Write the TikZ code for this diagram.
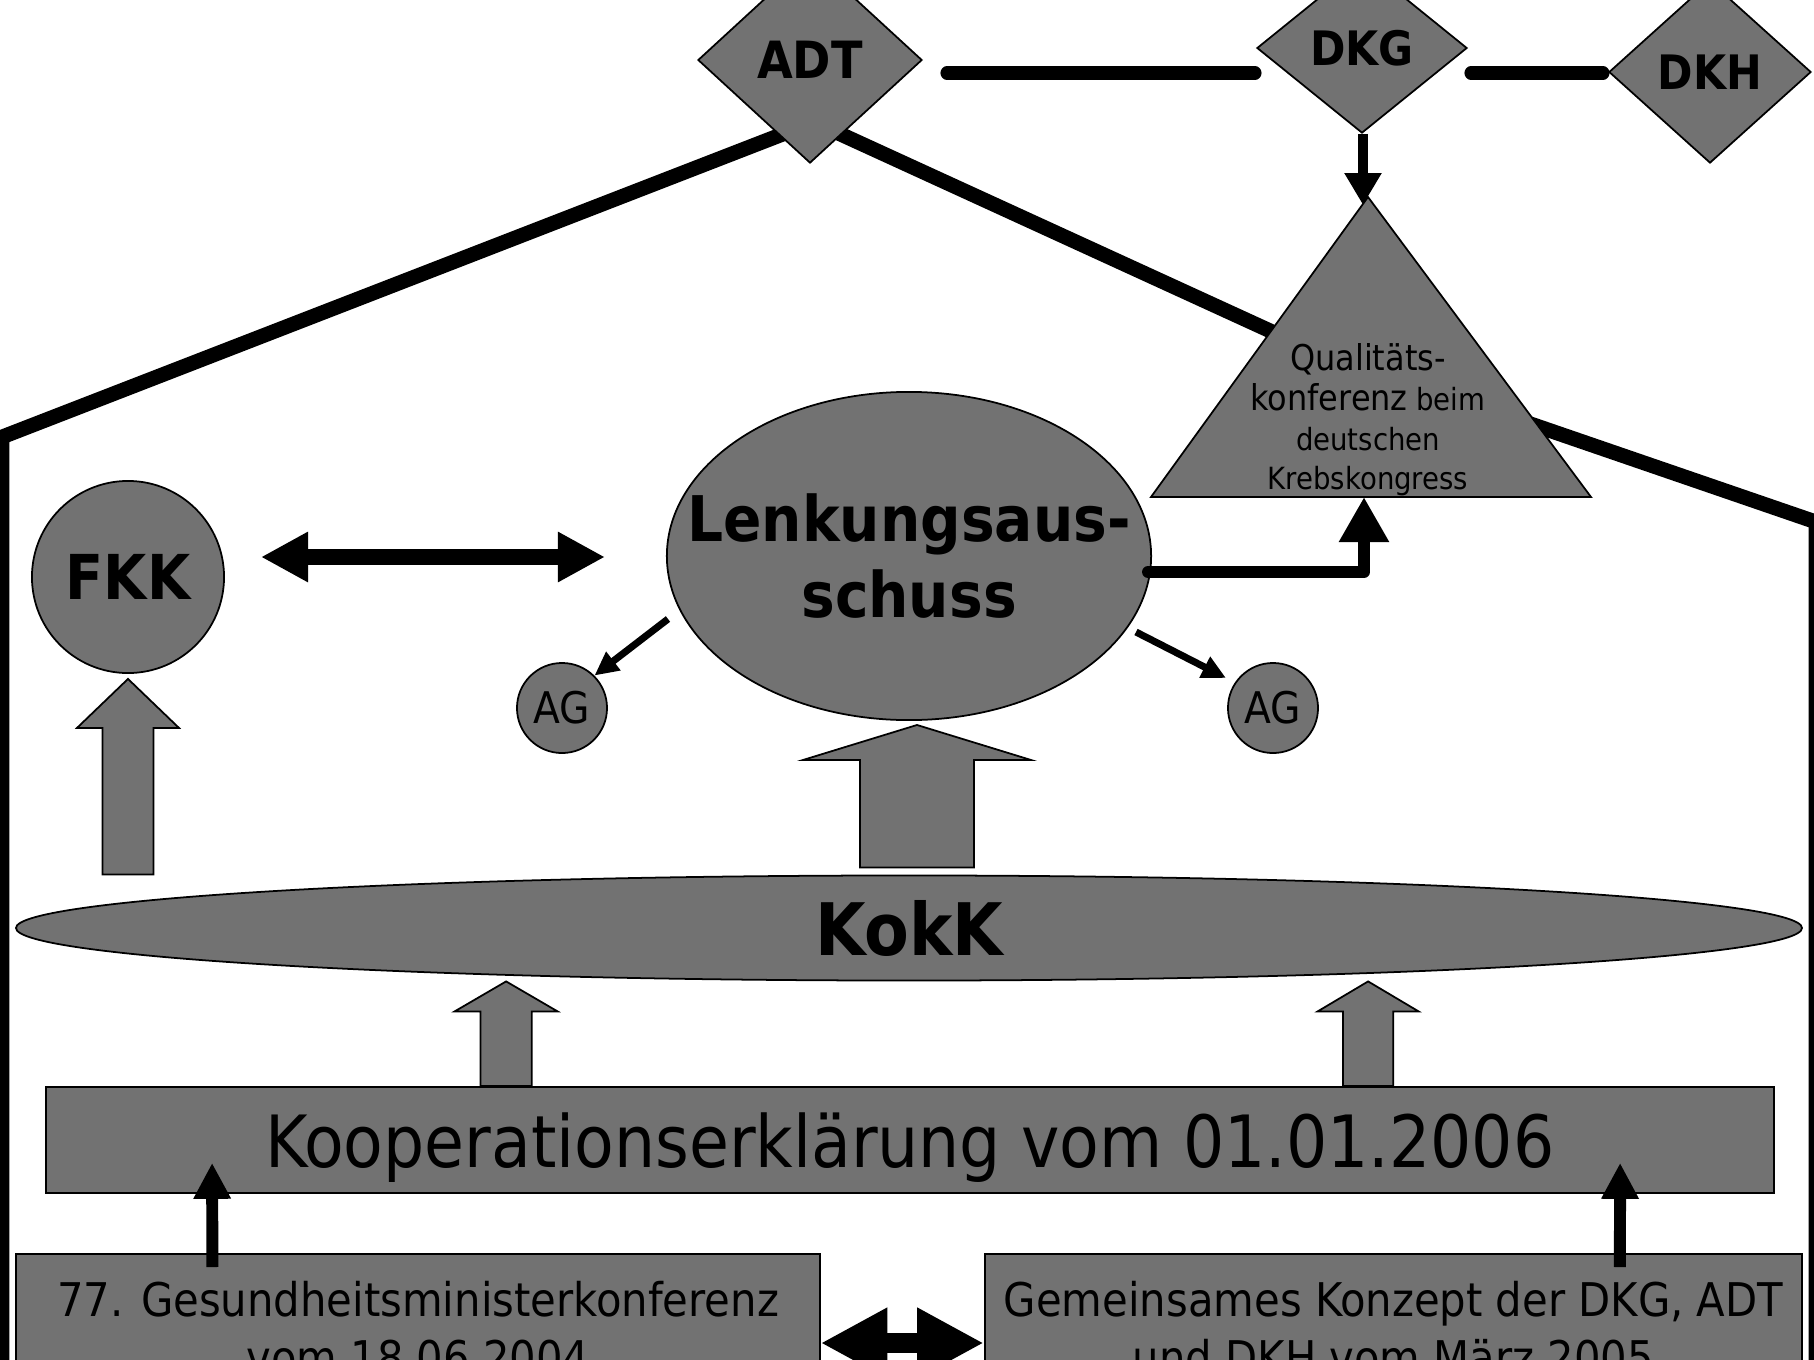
\documentclass[tikz,border=0pt]{standalone}
\usepackage{fontspec}
\setmainfont{DejaVu Sans Condensed}
\usetikzlibrary{shapes.geometric,arrows.meta,calc}

\definecolor{boxgray}{RGB}{114,114,114}

\tikzset{
  gremium/.style={draw=black, line width=0.5pt, fill=boxgray, inner sep=0pt},
  blockarrow/.style={draw=black, line width=0.5pt, fill=boxgray},
  blockup/.style n args={3}{to path={let \p1=(\tikztostart), \p2=(\tikztotarget) in
    (\x1-#1,\y1) -- (\x1-#1,\y2-#3) -- (\x1-#2,\y2-#3) -- (\x1,\y2)
    -- (\x1+#2,\y2-#3) -- (\x1+#1,\y2-#3) -- (\x1+#1,\y1) -- cycle}},
  roof/.style={line width=4.2pt, line join=round, line cap=round},
  bar/.style={line width=3.7pt, line cap=round}
}

\begin{document}
\begin{tikzpicture}[x=0.01cm, y=-0.01cm]

        \useasboundingbox (0,0) rectangle (1814,1360);
        \clip (0,0) rectangle (1814,1360);

        \draw[roof] (2,1380) -- (2,437) -- (814,122) -- (1301,345) -- (1816,522) -- (1816,1380);

        \begin{scope}[every node/.style={gremium, diamond, font=\bfseries\fontsize{13.5pt}{16pt}\selectfont}]
          \node[minimum width=2.24cm, minimum height=2.06cm, font=\bfseries\fontsize{14.6pt}{16pt}\selectfont] (ADT) at (810,60) {ADT};
          \node[minimum width=2.10cm, minimum height=1.70cm] (DKG) at (1362,48) {DKG};
          \node[minimum width=2.02cm, minimum height=1.82cm] (DKH) at (1710,72) {DKH};
        \end{scope}

        \draw[gremium] (1368,197) coordinate (Qtop) -- (1591,497) -- (1151,497) -- cycle;
        \coordinate (Qbase) at (1364,497);
        \node[align=center, anchor=north, inner sep=0pt, font=\fontsize{8.7pt}{11.3pt}\selectfont] (Qk) at (1368,343)
          {{\fontsize{10.1pt}{11.3pt}\selectfont Qualitäts-}\\{\fontsize{10.1pt}{11.3pt}\selectfont konferenz} beim\\deutschen\\Krebskongress};

        \begin{scope}[every node/.style={gremium}]
          \node[ellipse, minimum width=4.84cm, minimum height=3.28cm] (Lenk) at (909,556) {};
          \node[circle, minimum size=1.92cm, font=\bfseries\fontsize{17.6pt}{20pt}\selectfont] (FKK) at (128,577) {FKK};
          \node[circle, minimum size=0.9cm, font=\fontsize{12.4pt}{14pt}\selectfont] (AGl) at (562,708) {AG};
          \node[circle, minimum size=0.9cm, font=\fontsize{12.4pt}{14pt}\selectfont] (AGr) at (1273,708) {AG};
          \node[ellipse, minimum width=17.85cm, minimum height=1.05cm,
                font=\bfseries\fontsize{20.6pt}{24pt}\selectfont] (KokK) at (909,928) {KokK};
          \node[rectangle, minimum width=17.27cm, minimum height=1.06cm, text depth=0pt,
                font=\fontsize{20.5pt}{24pt}\selectfont] (Koop) at (910,1140) {Kooperationserklärung vom 01.01.2006};
          \node[rectangle, anchor=north, minimum width=8.03cm, inner ysep=0.27cm, align=center,
                font=\fontsize{13.2pt}{16.5pt}\selectfont] (Gmk) at (418,1253) {77. Gesundheitsministerkonferenz\\vom 18.06.2004};
          \node[rectangle, anchor=north, minimum width=8.17cm, inner ysep=0.27cm, align=center,
                font=\fontsize{13.2pt}{16.5pt}\selectfont] (Konz) at (1393.5,1253) {Gemeinsames Konzept der DKG, ADT\\und DKH vom März 2005};
        \end{scope}
        \node[align=center, inner sep=0pt, font=\bfseries\fontsize{17.9pt}{21.6pt}\selectfont] (Lenktext) at (Lenk.center) {Lenkungsaus-\\schuss};

        \draw[bar] ($(ADT.east)+(24,13)$) -- ($(DKG.west)+(-1,25)$);
        \draw[bar] ($(DKG.east)+(3,25)$) -- ($(DKH.west)+(-5,1)$);

        \draw[line width=3.1pt, -{Triangle[length=9.1pt, width=10pt]}] ($(DKG.south)+(1,0)$) -- ($(Qtop)+(-5,8)$);
        \draw[line width=3.4pt, line join=round, line cap=round, -{Triangle[length=12.8pt, width=13.4pt]}]
          ($(Lenk.east)+(-4,16)$) -| (Qbase);
        \draw[line width=4.55pt, {Triangle[length=13.4pt, width=13.4pt]}-{Triangle[length=13.4pt, width=13.4pt]}]
          ($(FKK.east)+(36,-20)$) -- ($(Lenk.west)+(-61,1)$);
        \draw[line width=2pt, -{Triangle[length=6.8pt, width=6.3pt]}] ($(Lenk.center)+(-241,63)$) -- (AGl.45);
        \draw[line width=2pt, -{Triangle[length=6.8pt, width=6.3pt]}] ($(Lenk.center)+(227,76)$) -- ($(AGr.center)+(-47,-30)$);

        \draw[blockarrow] (FKK.south |- KokK.north) to[blockup={0.255cm}{0.51cm}{0.49cm}] ($(FKK.south)+(0,5)$);
        \draw[blockarrow] ($(KokK.north)+(8,-7)$) to[blockup={0.57cm}{1.14cm}{0.35cm}] ($(Lenk.south)+(8,4)$);
        \coordinate (kl) at ($(Koop.north west)+(461,0)$);
        \coordinate (kr) at ($(Koop.north west)+(1323,0)$);
        \draw[blockarrow] (kl) to[blockup={0.255cm}{0.515cm}{0.3cm}] (kl |- KokK.south);
        \draw[blockarrow] (kr) to[blockup={0.25cm}{0.505cm}{0.3cm}] (kr |- KokK.south);

        \draw[line width=3.4pt, -{Triangle[length=10.2pt, width=10pt]}]
          ($(Gmk.north west)+(197,14)$) -- ($(Koop.south west)+(167,-31)$);
        \draw[line width=3.4pt, -{Triangle[length=10.2pt, width=10pt]}]
          ($(Konz.north west)+(636,14)$) -- ($(Koop.south west)+(1575,-31)$);
        \draw[line width=5.7pt, {Triangle[length=19pt, width=18.8pt]}-{Triangle[length=19pt, width=18.8pt]}]
          ($(Gmk.north east)+(0,90)$) -- ($(Konz.north west)+(0,90)$);

      \end{tikzpicture}
\end{document}
